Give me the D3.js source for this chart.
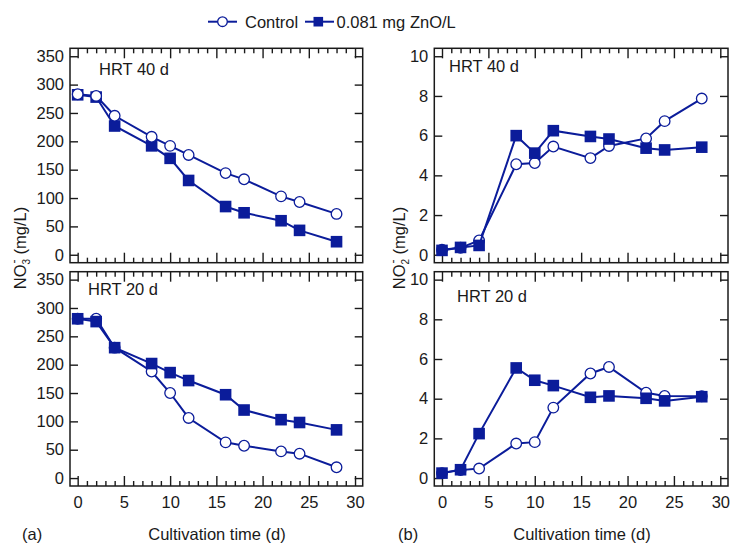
<!DOCTYPE html>
<html>
<head>
<meta charset="utf-8">
<script src="https://cdn.jsdelivr.net/npm/d3@7"></script>
<style>
  html, body { margin: 0; padding: 0; background: #fff; }
  svg text { font-family: "Liberation Sans", Arial, sans-serif; fill: #1a1a1a; }
</style>
</head>
<body>
<svg id="chart" width="732" height="547"></svg>
<script>
// ---- data ----
const days = [0, 2, 4, 8, 10, 12, 16, 18, 22, 24, 28];
const seriesNames = ["Control", "0.081 mg ZnO/L"];

const no3_hrt40_control = [283, 280, 245, 208, 192, 176, 144, 133, 103, 93, 72];
const no3_hrt40_zno     = [282, 278, 227, 192, 170, 131, 85, 74, 60, 43, 23];
const no3_hrt20_control = [281, 281, 230, 188, 150, 106, 63, 57, 47, 43, 19];
const no3_hrt20_zno     = [281, 276, 230, 202, 186, 172, 147, 120, 103, 98, 85];

const no2_hrt40_control = [0.25, 0.35, 0.72, 4.56, 4.62, 5.45, 4.87, 5.48, 5.86, 6.73, 7.87];
const no2_hrt40_zno     = [0.22, 0.37, 0.47, 6.0, 5.12, 6.25, 5.96, 5.83, 5.37, 5.28, 5.42];
const no2_hrt20_control = [0.25, 0.4, 0.48, 1.74, 1.81, 3.55, 5.27, 5.6, 4.3, 4.14, 4.12];
const no2_hrt20_zno     = [0.25, 0.42, 2.24, 5.55, 4.93, 4.66, 4.07, 4.14, 4.02, 3.89, 4.1];

const xTicks = [0, 5, 10, 15, 20, 25, 30];
const no3Ticks = [0, 50, 100, 150, 200, 250, 300, 350];
const no2Ticks = [0, 2, 4, 6, 8, 10];
const panelTitles = ["HRT 40 d", "HRT 20 d", "HRT 40 d", "HRT 20 d"];
const xLabel = "Cultivation time (d)";
const panelLetters = ["(a)", "(b)"];

// ---- style / layout ----
const blue = "#0b1c9a";
const svg = d3.select("#chart");
const colX = [[70, 362.7], [434.3, 728]];
const rowY = [[48.3, 262.7], [271.7, 486]];
const xDomain = [-0.83, 30.83];
const no3Domain = [-14, 364];
const no2Domain = [-0.4, 10.4];

const panels = [
  { col: 0, row: 0, ctrl: no3_hrt40_control, zno: no3_hrt40_zno, dom: no3Domain, ticks: no3Ticks, title: panelTitles[0], tx: 99, ty: 75, ctrlTop: true },
  { col: 0, row: 1, ctrl: no3_hrt20_control, zno: no3_hrt20_zno, dom: no3Domain, ticks: no3Ticks, title: panelTitles[1], tx: 88, ty: 295, ctrlTop: false },
  { col: 1, row: 0, ctrl: no2_hrt40_control, zno: no2_hrt40_zno, dom: no2Domain, ticks: no2Ticks, title: panelTitles[2], tx: 449, ty: 72, ctrlTop: false },
  { col: 1, row: 1, ctrl: no2_hrt20_control, zno: no2_hrt20_zno, dom: no2Domain, ticks: no2Ticks, title: panelTitles[3], tx: 457, ty: 302, ctrlTop: false }
];

const minorX = d3.range(0, 31).filter(d => d % 5 !== 0);

panels.forEach(p => {
  const [x0, x1] = colX[p.col];
  const [y0, y1] = rowY[p.row];
  const x = d3.scaleLinear().domain(xDomain).range([x0, x1]);
  const y = d3.scaleLinear().domain(p.dom).range([y1, y0]);
  const g = svg.append("g");

  const bx = g.append("g").attr("transform", `translate(0,${y1})`)
    .call(d3.axisBottom(x).tickValues(xTicks).tickSize(-10).tickPadding(10)
      .tickFormat(p.row === 1 ? d3.format("d") : () => ""));
  const tx = g.append("g").attr("transform", `translate(0,${y0})`)
    .call(d3.axisTop(x).tickValues(xTicks).tickSize(-10).tickFormat(() => ""));
  const bxm = g.append("g").attr("transform", `translate(0,${y1})`)
    .call(d3.axisBottom(x).tickValues(minorX).tickSize(-5).tickFormat(() => ""));
  const txm = g.append("g").attr("transform", `translate(0,${y0})`)
    .call(d3.axisTop(x).tickValues(minorX).tickSize(-5).tickFormat(() => ""));
  const ly = g.append("g").attr("transform", `translate(${x0},0)`)
    .call(d3.axisLeft(y).tickValues(p.ticks).tickSize(-8).tickPadding(6).tickFormat(d3.format("d")));
  const ry = g.append("g").attr("transform", `translate(${x1},0)`)
    .call(d3.axisRight(y).tickValues(p.ticks).tickSize(-8).tickFormat(() => ""));

  [bx, tx, bxm, txm, ly, ry].forEach(a => {
    a.select(".domain").remove();
    a.selectAll(".tick line").attr("stroke", "#1a1a1a").attr("stroke-width", 1.4);
    a.selectAll(".tick text").attr("font-size", 16.5).attr("fill", "#1a1a1a")
      .attr("font-family", "Liberation Sans, Arial, sans-serif");
  });

  g.append("rect").attr("x", x0).attr("y", y0).attr("width", x1 - x0).attr("height", y1 - y0)
    .attr("fill", "none").attr("stroke", "#1a1a1a").attr("stroke-width", 1.5);

  g.append("text").attr("x", p.tx).attr("y", p.ty).attr("font-size", 16.5).text(p.title);

  const line = d3.line().x((d, i) => x(days[i])).y(d => y(d));
  const drawCtrl = () => {
    g.append("path").datum(p.ctrl).attr("d", line).attr("fill", "none")
      .attr("stroke", blue).attr("stroke-width", 2);
    g.selectAll(null).data(p.ctrl).enter().append("circle")
      .attr("cx", (d, i) => x(days[i])).attr("cy", d => y(d)).attr("r", 5.3)
      .attr("fill", "#fff").attr("stroke", blue).attr("stroke-width", 1.3);
  };
  const drawZno = () => {
    g.append("path").datum(p.zno).attr("d", line).attr("fill", "none")
      .attr("stroke", blue).attr("stroke-width", 2);
    g.selectAll(null).data(p.zno).enter().append("rect")
      .attr("x", (d, i) => x(days[i]) - 5.8).attr("y", d => y(d) - 5.8)
      .attr("width", 11.6).attr("height", 11.6).attr("fill", blue);
  };
  if (p.ctrlTop) { drawZno(); drawCtrl(); } else { drawCtrl(); drawZno(); }
});

// axis titles
function yTitle(cx, cy, sub) {
  const t = svg.append("text").attr("transform", `translate(${cx},${cy}) rotate(-90)`)
    .attr("text-anchor", "middle").attr("font-size", 16.5);
  t.append("tspan").text("NO");
  t.append("tspan").attr("font-size", 12).attr("dx", 1).attr("dy", -8).text("-");
  t.append("tspan").attr("font-size", 10).attr("dx", -5).attr("dy", 12).text(sub);
  t.append("tspan").attr("dy", -4).text("\u00a0(mg/L)");
}
yTitle(26, 248, "3");
yTitle(405, 248, "2");

svg.append("text").attr("x", 217).attr("y", 540).attr("text-anchor", "middle").attr("font-size", 16.5).text(xLabel);
svg.append("text").attr("x", 582).attr("y", 540).attr("text-anchor", "middle").attr("font-size", 16.5).text(xLabel);
svg.append("text").attr("x", 22).attr("y", 540).attr("font-size", 16.5).text(panelLetters[0]);
svg.append("text").attr("x", 398).attr("y", 540).attr("font-size", 16.5).text(panelLetters[1]);

// legend
const lg = svg.append("g");
lg.append("line").attr("x1", 208).attr("x2", 237).attr("y1", 21.7).attr("y2", 21.7).attr("stroke", blue).attr("stroke-width", 2);
lg.append("circle").attr("cx", 222.5).attr("cy", 21.7).attr("r", 4.8).attr("fill", "#fff").attr("stroke", blue).attr("stroke-width", 1.3);
lg.append("text").attr("x", 245).attr("y", 27.5).attr("font-size", 16.5).text(seriesNames[0]);
lg.append("line").attr("x1", 305).attr("x2", 334).attr("y1", 21.7).attr("y2", 21.7).attr("stroke", blue).attr("stroke-width", 2);
lg.append("rect").attr("x", 313.5).attr("y", 16.9).attr("width", 9.6).attr("height", 9.6).attr("fill", blue);
lg.append("text").attr("x", 336.5).attr("y", 27.5).attr("font-size", 16.5).text(seriesNames[1]);
</script>
</body>
</html>
